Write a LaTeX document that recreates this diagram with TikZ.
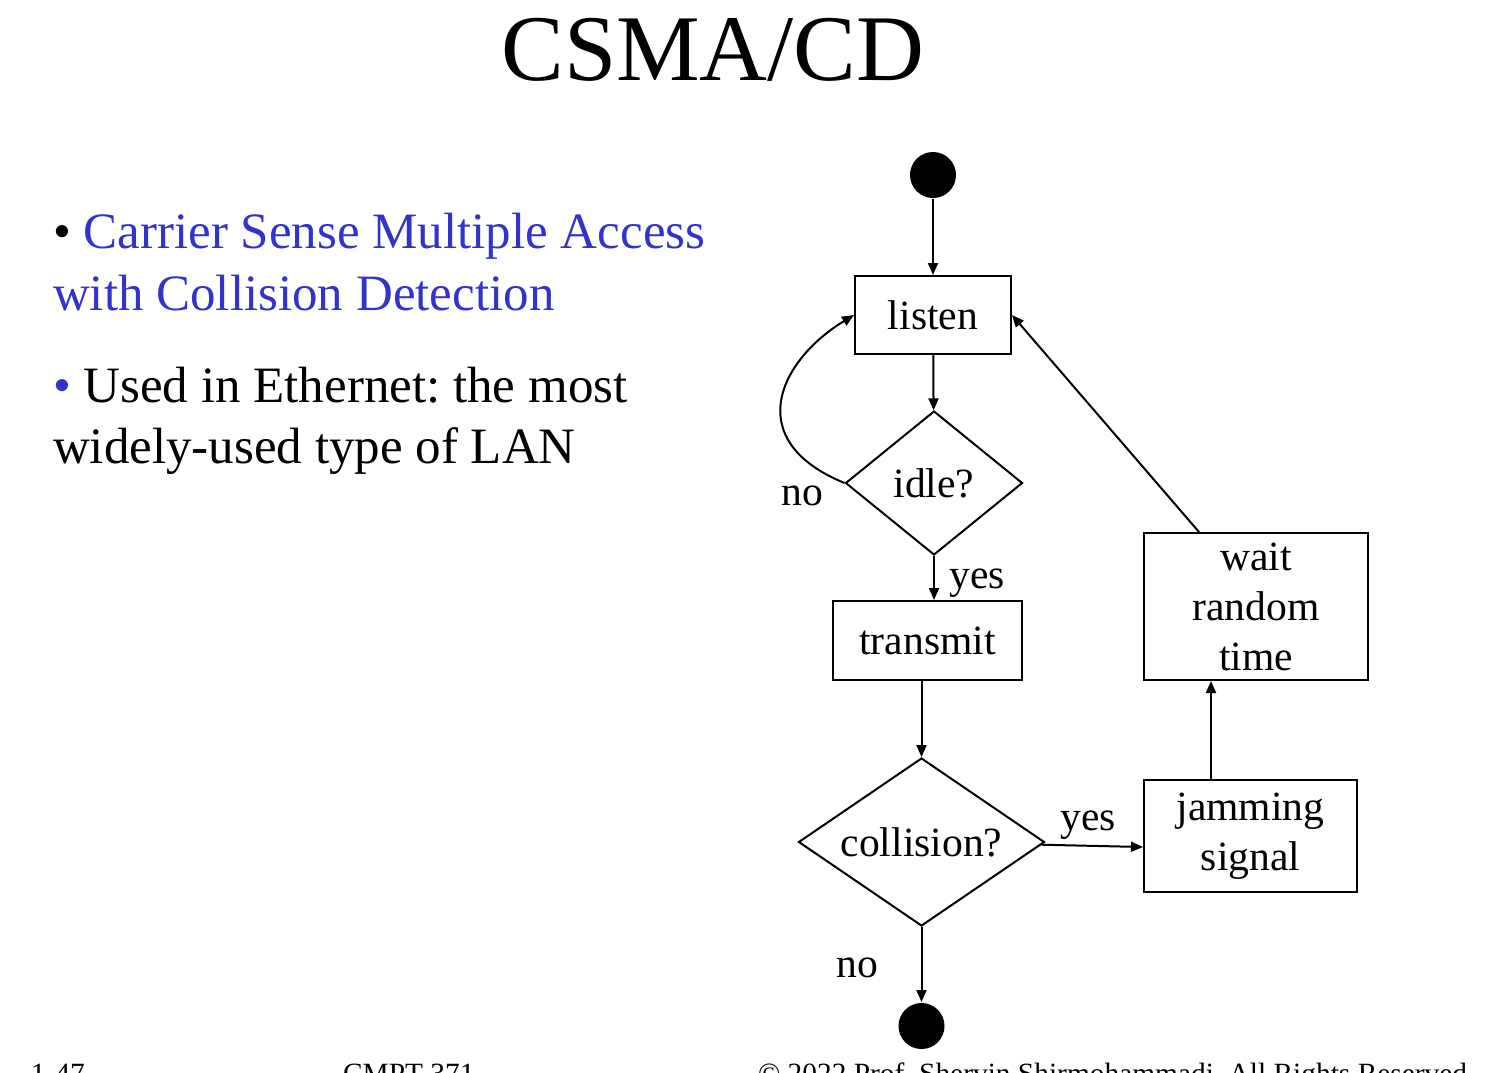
\documentclass[tikz,border=0pt]{standalone}
\usepackage{fontspec}
\setmainfont{Liberation Serif}
\usetikzlibrary{
    shapes.geometric,
    arrows.meta
}
\frenchspacing
\definecolor{slideblue}{RGB}{51,51,204}
\newcommand{\flowfont}{\fontsize{20.8}{25}\selectfont}
\newcommand{\bulletfont}{\fontsize{25.5}{31}\selectfont}
\tikzset{
    >={Triangle[length=6pt,width=5pt]},
    stepbox/.style={
        draw,
        rectangle,
        inner sep=0pt,
        align=center,
        font=\flowfont
    },
    test/.style={
        draw,
        diamond,
        inner sep=0pt,
        font=\flowfont
    },
    dot/.style={
        circle,
        fill=black,
        minimum size=23pt,
        inner sep=0pt
    },
    lbl/.style={anchor=base, inner sep=0pt, font=\flowfont},
    bulletline/.style={anchor=base west, inner sep=0pt, font=\bulletfont},
    foot/.style={anchor=base west, inner sep=0pt, font=\fontsize{14.7}{18}\selectfont}
}

\begin{document}
\begin{tikzpicture}[
    x=0.5pt,
    y=-0.5pt,
    line width=1pt
]
    \useasboundingbox (0,0) rectangle (1498,1072);
    \clip (0,0) rectangle (1498,1072);

    % Title and text
    \node[anchor=base, inner sep=0pt, font=\fontsize{47}{50}\selectfont] (title) at (713,80) {CSMA/CD};
    \node[bulletline] (carrier)  at (52,248) {\textbullet\ \textcolor{slideblue}{Carrier Sense Multiple Access}};
    \node[bulletline, text=slideblue] (carrier2) at (52,310) {with Collision Detection};
    \node[bulletline] (ether)    at (52,402) {\textcolor{slideblue}{\textbullet}\ Used in Ethernet: the most};
    \node[bulletline] (ether2)   at (52,463) {widely-used type of LAN};

    % States
    \node[dot]                                                      (start)     at (933,175)    {};
    \node[stepbox, minimum width=78pt, minimum height=39pt]         (listen)    at (933,315)    {listen};
    \node[test, minimum width=88.5pt, minimum height=72pt]          (idle)      at (934,483)    {idle?};
    \node[stepbox, minimum width=94.5pt, minimum height=39.5pt]     (transmit)  at (927.5,640.5){transmit};
    \node[test, aspect=1.46, minimum width=123pt, minimum height=84pt] (collision) at (921.5,842) {collision?};
    \node[stepbox, minimum width=106.5pt, minimum height=56pt]      (jam)       at (1250.5,836) {jamming\\signal};
    \node[stepbox, minimum width=112pt, minimum height=73.5pt]      (wait)      at (1256,606.5) {wait\\random\\time};
    \node[dot]                                                      (stop)      at (921.5,1026) {};

    % Transitions
    \path[->]
        (start) edge (listen)
        (listen) edge (idle)
        (idle) edge (idle.south |- transmit.north)
        (transmit.south -| collision.north) edge (collision)
        (collision) edge ([yshift=-5.5pt]jam.west)
        ([xshift=34pt]jam.north west) edge ([xshift=34pt]wait.south west)
        ([xshift=28pt]wait.north west) edge (listen.east)
        (collision) edge (stop);

    % idle? no: back to listen
    \draw[->] (idle.west) .. controls (740,440) and (780,360) .. (listen.west);

    % Labels
    \node[lbl] (noidle)   at (802,505)  {no};
    \node[lbl] (yesidle)  at (977,588)  {yes};
    \node[lbl] (yescoll)  at (1088,830) {yes};
    \node[lbl] (nocoll)   at (857,977)  {no};

    % Footer
    \node[foot] (page)   at (30,1083)  {1-47};
    \node[foot] (course) at (342,1083) {CMPT 371};
    \node[foot] (rights) at (757,1083) {© 2022 Prof. Shervin Shirmohammadi. All Rights Reserved};

\end{tikzpicture}
\end{document}
